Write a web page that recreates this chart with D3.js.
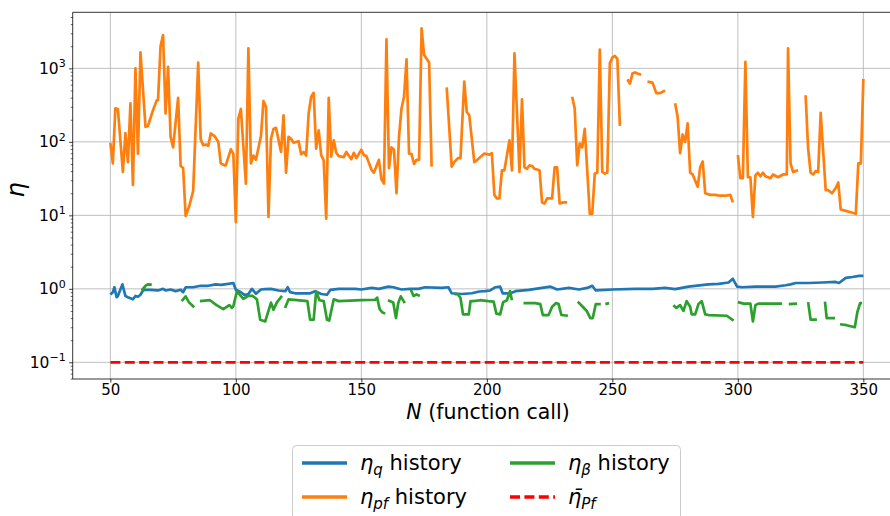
<!DOCTYPE html>
<html><head><meta charset="utf-8">
<script src="https://cdn.jsdelivr.net/npm/d3@7"></script>
<style>body{margin:0;background:#fff}svg{display:block}text{font-family:"DejaVu Sans",sans-serif}</style>
</head><body>
<svg id="c" width="890" height="516"></svg>
<script>
// ---- data (null = gap) ----
const xTicks = [50,100,150,200,250,300,350];
const yTickExps = [-1,0,1,2,3];
const etaPfBar = 0.1;
const etaPfBarRange = [50,350];

const qN = [50,51,51.6,52.5,53,54.8,56,57,59,60,61,62,63,64,66,69,71,72,74,76,78,79,80,83,86,89,92,94,97,99,100,102,103.5,105,106.4,108,110,111.6,114,117,119.7,120.7,121.6,123.6,129.6,131.6,134,136.3,137.7,141,147.6,150,154,157,160.8,162.8,166,169.4,172.7,175.4,182,184.7,186,190,194,197,199.3,201.3,203.3,205.3,206.3,209.4,211.4,216.7,222,225.4,228,232.7,236.7,240,242,243.4,250,259,266,271,275,277.7,280.3,283,288.3,292.3,296.3,298,299.7,301.7,307,315,319,321,323,328.3,333.6,339,340.3,343,345.6,348.3,350];
const qV = [0.84,0.9,1.05,0.77,0.8,1.15,0.8,0.77,0.72,0.8,0.78,0.83,0.95,0.97,0.97,0.95,1.0,0.95,0.98,0.93,0.97,0.9,1.05,1.05,1.1,1.1,1.15,1.13,1.17,1.2,0.97,0.9,0.82,0.85,1.0,0.86,0.98,0.99,1.0,0.95,0.93,1.05,0.9,0.87,0.87,0.93,0.85,0.83,0.97,1.0,1.0,0.98,1.03,1.0,1.07,1.05,0.98,1.0,1.0,1.05,1.03,1.05,0.87,0.85,0.87,0.92,0.93,0.95,1.05,1.07,0.87,0.87,0.93,0.97,1.03,1.07,0.98,1.03,0.98,1.03,1.1,0.95,0.98,1.0,1.0,1.03,0.99,1.03,1.07,1.1,1.15,1.17,1.22,1.37,1.07,1.05,1.07,1.07,1.12,1.15,1.2,1.2,1.22,1.24,1.2,1.41,1.45,1.5,1.5];

const pfN = [50,51,52,53,55,56,57,58,59,60,61,62,64,65,67,68.5,69,70,71,72,73,74,75,77,78,79,80,81.5,83,85,86,87,88,89,90,91.5,93,94,95.5,96,98,99,100,101,102,104,105,106,107,108,110,111,112,113,114,115,116,118,119,120,121,122,123,125,126,127,128,129,130,131,132,133,134,135,136,137,138,139,140,141,143,144,146,147,148,150,151,152,154,155,157,158,159,160,161,162,163,164,165,166,167,168,169,170,171,172,173,174,175,177,178,181,184,186,187,188.5,189.5,191,192,193,195,196,198,199,201,202,203,204,205,206,207,209,210,211,213,214,215,216,217,218,219,221,222,223,224,226,227,228,229,230.5,232,233,234,235,236,237,238,239,240,241,242,243,244,245,246,247,248,249,250,251,252,253,254.5,256,257,258,259,260,261.5,263,264,266,267.5,269,271,273,275,276,277,278,279,280,281,282,284,285,286,287,289,291,293,295,297,298,299,300,301,302,303,304,305,306,307,308,309,310,311,313,314,316,318,319.5,320,321,322,324,325.5,327,328,329,330,331,332,333,335,336,337.5,339,340,341,343,345,347,348,349,350];
const pfV = [97,51,285,280,39,132,53,333,26,1000,69,1650,160,165,270,370,370,2000,2840,243,1050,117,84,398,47,44,9.8,13.6,21.5,1200,108,90,92,88,130,120,100,51,48,48,79,69,8.1,208,280,27,1870,51,65,57,120,360,300,9.5,110,150,155,73,230,38,117,110,97,102,68,73,65,243,410,465,81,143,66,56,9.0,398,63,105,71,64,62,73,58,71,60,78,66,64,42,38,57,31,27,2480,44,84,78,20,117,285,410,1330,69,68,50,57,57,3500,1520,1200,46,null,550,46,53,60,60,660,255,230,53,56,65,69,67,70,19,17,17,41,41,105,41,1600,39,380,45,43,48,47,43,41,15,14.5,17,17,45,45,14.5,15,15,null,410,285,48,95,84,150,41,10.5,10.5,37,38,1800,39,37,38,1170,1400,1480,1350,165,null,710,620,850,880,850,820,null,660,640,460,460,500,null,335,220,70,126,100,178,38,36,24.5,45,54,20,19,19,18.5,18.5,19,15,null,66,32,32,1230,33,33,9.5,35,38,34,38,34,32,36,33,36,36,1870,51,39,41,null,430,81,38,36,40,39,248,22,22,20,23.5,28,12,11.5,11,10.5,51,51,715];

const bN = [62.5,64,65,66.5,72,78.4,80,81.4,83.4,84.5,85.7,89.7,92.3,95,97.4,98.4,99,100.4,101.7,103,105,106.7,108.4,109.7,111.7,113,114,115,116.4,118.4,119,119.6,121,124.3,128.5,129.6,131,132,133.3,135,136.3,137.2,139,141,150,155.5,156.3,157.3,158.3,159.5,160,160.6,162.7,163.8,164.7,165.7,167.3,168.5,169.7,170.8,172,173.3,180,187,188.5,189.5,190.5,192.8,193.5,194.6,197.3,200.5,202.7,203.8,205.3,206.5,208,209.2,210,212,214.6,219.3,221.3,222.3,224.6,226,227.6,228.6,229.7,232.3,234,236.2,238.2,239.8,241.2,242.2,243.4,245.4,246.3,247.2,248.7,260,274.3,275.5,277,278.3,279.6,281,281.6,283,284.3,285.6,287,288.3,295.6,298.3,299.2,300,302.3,303.6,305,306,307,308.3,315,317.6,319,320.3,323.6,326,328,329,331.5,333,334.7,335.4,338.7,339.7,340.7,343.3,346.6,347.6,348.7,349.5];
const bV = [0.95,1.1,1.15,1.14,null,0.68,0.79,0.65,0.56,null,0.68,0.7,0.6,0.53,0.6,0.55,0.58,0.92,0.82,0.73,0.8,0.8,0.72,0.38,0.36,0.5,0.65,0.52,0.66,0.8,null,0.55,0.72,0.7,0.68,0.38,0.38,0.92,0.7,0.68,0.38,0.37,0.72,0.68,0.7,0.71,0.76,0.53,0.48,0.46,null,0.7,0.65,0.4,0.64,0.79,0.64,null,0.97,0.8,0.84,0.8,null,0.85,0.84,0.75,0.45,0.45,0.68,0.68,0.7,0.68,0.67,0.46,0.45,0.66,0.7,0.93,0.7,null,0.64,0.64,0.62,0.44,0.44,0.57,0.64,0.62,0.44,0.43,null,0.67,0.57,0.5,0.4,0.4,0.62,0.62,null,0.62,0.64,null,0.6,0.55,0.6,0.5,0.68,0.57,0.45,0.45,0.62,0.68,0.45,0.44,0.43,0.37,null,0.66,0.63,0.63,0.63,0.36,0.6,0.63,0.63,0.63,null,0.62,0.63,null,0.66,0.38,0.38,null,0.67,0.4,0.4,null,0.33,0.32,0.3,0.48,0.64,0.64];

// ---- layout ----
const svg = d3.select("#c");
const L = 72.7, R = 901, T = 12.3, B = 379;
const x = d3.scaleLinear().domain([35,365]).range([L,R]);
const y = d3.scaleLog().domain([Math.pow(10,-1.227), Math.pow(10,3.763)]).range([B,T]);

svg.append("defs").append("clipPath").attr("id","clp")
  .append("rect").attr("x",L).attr("y",T).attr("width",R-L).attr("height",B-T);

// grid
const grid = svg.append("g");
xTicks.forEach(t=>grid.append("line").attr("x1",x(t)).attr("x2",x(t)).attr("y1",T).attr("y2",B)
  .attr("stroke","#b0b0b0").attr("stroke-width",0.8));
yTickExps.forEach(e=>grid.append("line").attr("x1",L).attr("x2",R).attr("y1",y(Math.pow(10,e))).attr("y2",y(Math.pow(10,e)))
  .attr("stroke","#b0b0b0").attr("stroke-width",0.8));

// series
const plot = svg.append("g").attr("clip-path","url(#clp)");
function drawSeries(N, V, color){
  const pts = N.map((n,i)=>({n, v:V[i]}));
  const line = d3.line().defined(d=>d.v!==null).x(d=>x(d.n)).y(d=>y(d.v));
  plot.append("path").attr("d",line(pts)).attr("fill","none").attr("stroke",color)
    .attr("stroke-width",2.7).attr("stroke-linejoin","round").attr("stroke-linecap","butt");
}
drawSeries(qN,qV,"#1f77b4");
drawSeries(pfN,pfV,"#ff7f0e");
drawSeries(bN,bV,"#2ca02c");
plot.append("line").attr("x1",x(etaPfBarRange[0])).attr("x2",x(etaPfBarRange[1]))
  .attr("y1",y(etaPfBar)).attr("y2",y(etaPfBar)).attr("stroke","#ff0000").attr("stroke-width",2.7)
  .attr("stroke-dasharray","10,4.4");

// axes
const xAxis = d3.axisBottom(x).tickValues(xTicks).tickSize(3.5).tickPadding(2).tickFormat(d3.format("d"));
const gx = svg.append("g").attr("transform",`translate(0,${B})`).call(xAxis);
gx.select(".domain").remove();
gx.selectAll("line").attr("stroke","#000").attr("stroke-width",0.8);
gx.selectAll("text").attr("font-size",15).attr("font-family","DejaVu Sans").attr("fill","#000");

const minorVals = [];
for(let e=-2;e<=3;e++) for(let k=2;k<=9;k++){const v=k*Math.pow(10,e); if(v>=y.domain()[0]&&v<=y.domain()[1]) minorVals.push(v);}
const gyMinor = svg.append("g").attr("transform",`translate(${L},0)`)
  .call(d3.axisLeft(y).tickValues(minorVals).tickSize(2).tickFormat(""));
gyMinor.select(".domain").remove();
gyMinor.selectAll("line").attr("stroke","#000").attr("stroke-width",0.6);

const gy = svg.append("g").attr("transform",`translate(${L},0)`)
  .call(d3.axisLeft(y).tickValues(yTickExps.map(e=>Math.pow(10,e))).tickSize(3.5).tickFormat(""));
gy.select(".domain").remove();
gy.selectAll("line").attr("stroke","#000").attr("stroke-width",0.8);
yTickExps.forEach(e=>{
  const t = svg.append("text").attr("x",L-7).attr("y",y(Math.pow(10,e))+5.5).attr("text-anchor","end")
    .attr("font-size",15.5).attr("fill","#000");
  t.append("tspan").text("10");
  t.append("tspan").attr("dy",-6.5).attr("font-size",11).text(e<0?"\u2212"+Math.abs(e):String(e));
});

// spines
svg.append("line").attr("x1",L).attr("x2",L).attr("y1",T).attr("y2",B).attr("stroke","#000").attr("stroke-width",0.8);
svg.append("line").attr("x1",L).attr("x2",R).attr("y1",B).attr("y2",B).attr("stroke","#000").attr("stroke-width",0.8);
svg.append("line").attr("x1",L).attr("x2",R).attr("y1",T).attr("y2",T).attr("stroke","#000").attr("stroke-width",0.8);
svg.append("line").attr("x1",R).attr("x2",R).attr("y1",T).attr("y2",B).attr("stroke","#000").attr("stroke-width",0.8);

// axis labels
const xl = svg.append("text").attr("x",488).attr("y",419).attr("text-anchor","middle").attr("font-size",20.5).attr("fill","#000");
xl.append("tspan").attr("font-style","italic").text("N");
xl.append("tspan").text(" (function call)");
svg.append("text").attr("transform","translate(24,190) rotate(-90)").attr("text-anchor","middle")
  .attr("font-size",24).attr("font-style","italic").attr("fill","#000").text("η");

// legend
const lg = svg.append("g");
lg.append("rect").attr("x",292.5).attr("y",445.5).attr("width",388).attr("height",80).attr("rx",4)
  .attr("fill","#fff").attr("fill-opacity",0.8).attr("stroke","#cccccc").attr("stroke-width",1);
const items = [
  {c:"#1f77b4", dash:null, x:302, y:463, sym:"η", sub:"q", rest:" history"},
  {c:"#ff7f0e", dash:null, x:302, y:497, sym:"η", sub:"pf", rest:" history"},
  {c:"#2ca02c", dash:null, x:510, y:463, sym:"η", sub:"β", rest:" history"},
  {c:"#ff0000", dash:"10,4.4", x:510, y:497, sym:"η\u0304", sub:"Pf", rest:""}
];
items.forEach(it=>{
  lg.append("line").attr("x1",it.x).attr("x2",it.x+45).attr("y1",it.y).attr("y2",it.y)
    .attr("stroke",it.c).attr("stroke-width",3.4).attr("stroke-dasharray",it.dash);
  const t = lg.append("text").attr("x",it.x+58).attr("y",it.y+7).attr("font-size",21).attr("fill","#000");
  t.append("tspan").attr("font-style","italic").text(it.sym);
  t.append("tspan").attr("font-style","italic").attr("font-size",15).attr("dy",5).text(it.sub);
  if(it.rest) t.append("tspan").attr("dy",-5).text(it.rest);
});
</script>
</body></html>
